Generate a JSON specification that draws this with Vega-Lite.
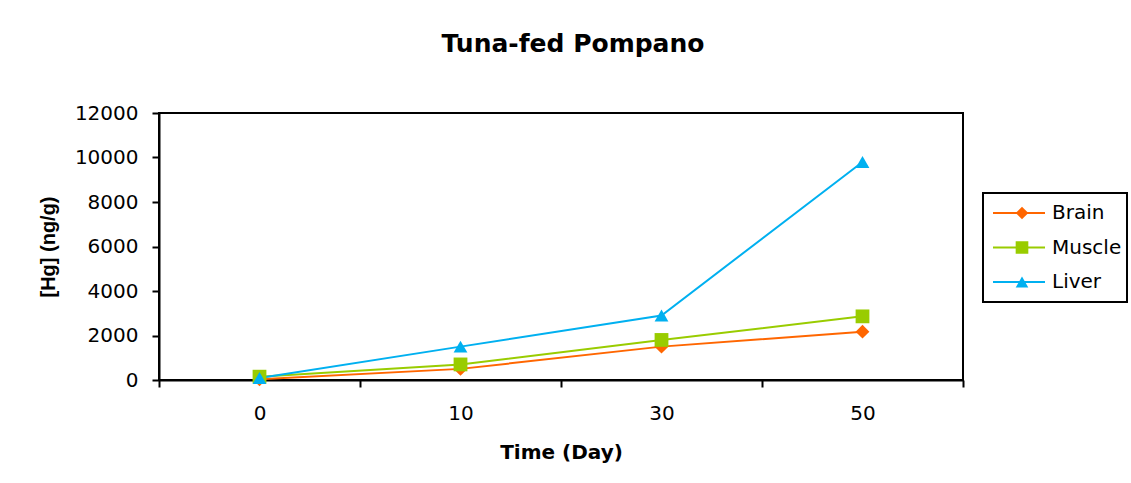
{
  "$schema": "https://vega.github.io/schema/vega-lite/v6.json",
  "autosize": "none",
  "width": 804,
  "height": 267,
  "padding": {"left": 159, "top": 113, "right": 168, "bottom": 103},
  "background": "white",
  "title": {
    "text": "Tuna-fed Pompano",
    "fontSize": 25,
    "font": "DejaVu Sans",
    "fontWeight": "bold",
    "color": "black",
    "anchor": "middle",
    "dx": 12,
    "offset": 46
  },
  "data": {
    "values": [
      {"series": "Brain", "day": "0", "hg": 30},
      {"series": "Brain", "day": "10", "hg": 500},
      {"series": "Brain", "day": "30", "hg": 1500},
      {"series": "Brain", "day": "50", "hg": 2170},
      {"series": "Muscle", "day": "0", "hg": 150},
      {"series": "Muscle", "day": "10", "hg": 700},
      {"series": "Muscle", "day": "30", "hg": 1800},
      {"series": "Muscle", "day": "50", "hg": 2860},
      {"series": "Liver", "day": "0", "hg": 90},
      {"series": "Liver", "day": "10", "hg": 1500},
      {"series": "Liver", "day": "30", "hg": 2900},
      {"series": "Liver", "day": "50", "hg": 9800}
    ]
  },
  "encoding": {
    "x": {
      "field": "day",
      "type": "ordinal",
      "sort": ["0", "10", "30", "50"],
      "scale": {"type": "band", "paddingInner": 0, "paddingOuter": 0},
      "axis": {
        "title": "Time (Day)",
        "labelAngle": 0,
        "tickBand": "extent",
        "labelPadding": 16,
        "titlePadding": 19,
        "titleFont": "DejaVu Sans",
        "titleFontSize": 20
      }
    },
    "y": {
      "field": "hg",
      "type": "quantitative",
      "scale": {"domain": [0, 12000], "nice": false},
      "axis": {
        "title": "[Hg] (ng/g)",
        "values": [0, 2000, 4000, 6000, 8000, 10000, 12000],
        "format": "d",
        "labelPadding": 14,
        "titlePadding": 16,
        "titleFont": "Liberation Sans",
        "titleFontSize": 20,
        "grid": false
      }
    }
  },
  "layer": [
    {
      "mark": {"type": "line", "strokeWidth": 2},
      "encoding": {
        "color": {
          "field": "series",
          "type": "nominal",
          "scale": {"domain": ["Brain", "Muscle", "Liver"], "range": ["#FF6600", "#99CC00", "#00B0F0"]},
          "legend": {
            "title": null,
            "orient": "none",
            "legendX": 824,
            "legendY": 80,
            "padding": 5,
            "strokeColor": "black",
            "symbolType": "stroke",
            "symbolSize": 2704,
            "symbolStrokeWidth": 2,
            "clipHeight": 30,
            "rowPadding": 4.5,
            "symbolOffset": 4,
            "labelOffset": 6,
            "labelFontSize": 20,
            "labelFont": "DejaVu Sans",
            "labelColor": "black",
            "labelBaseline": "middle"
          }
        }
      }
    },
    {
      "mark": {"type": "point", "filled": true, "opacity": 1, "size": 190},
      "encoding": {
        "fill": {
          "field": "series",
          "type": "nominal",
          "scale": {"domain": ["Liver", "Brain", "Muscle"], "range": ["#00B0F0", "#FF6600", "#99CC00"]},
          "legend": {
            "title": null,
            "values": ["Brain", "Muscle", "Liver"],
            "orient": "none",
            "legendX": 824,
            "legendY": 80,
            "padding": 5,
            "symbolSize": 160,
            "symbolStrokeWidth": 0,
            "clipHeight": 30,
            "rowPadding": 4.5,
            "symbolOffset": 24,
            "labelOffset": 6,
            "labelFontSize": 20,
            "labelFont": "DejaVu Sans",
            "labelExpr": "''",
            "labelOpacity": 0,
            "labelBaseline": "middle"
          }
        },
        "shape": {
          "field": "series",
          "type": "nominal",
          "scale": {"domain": ["Liver", "Brain", "Muscle"], "range": ["triangle-up", "diamond", "square"]},
          "legend": {
            "title": null,
            "values": ["Brain", "Muscle", "Liver"],
            "orient": "none",
            "legendX": 824,
            "legendY": 80,
            "padding": 5,
            "symbolSize": 160,
            "symbolStrokeWidth": 0,
            "clipHeight": 30,
            "rowPadding": 4.5,
            "symbolOffset": 24,
            "labelOffset": 6,
            "labelFontSize": 20,
            "labelFont": "DejaVu Sans",
            "labelExpr": "''",
            "labelOpacity": 0,
            "labelBaseline": "middle"
          }
        }
      }
    }
  ],
  "config": {
    "font": "DejaVu Sans",
    "view": {"stroke": "black", "strokeWidth": 2},
    "legend": {"strokeWidth": 2},
    "axis": {
      "domainColor": "black",
      "domainWidth": 2,
      "tickColor": "black",
      "tickWidth": 2,
      "tickSize": 7,
      "labelFontSize": 20,
      "labelColor": "black",
      "labelFont": "DejaVu Sans",
      "titleFontWeight": "bold",
      "titleColor": "black",
      "grid": false
    }
  }
}
